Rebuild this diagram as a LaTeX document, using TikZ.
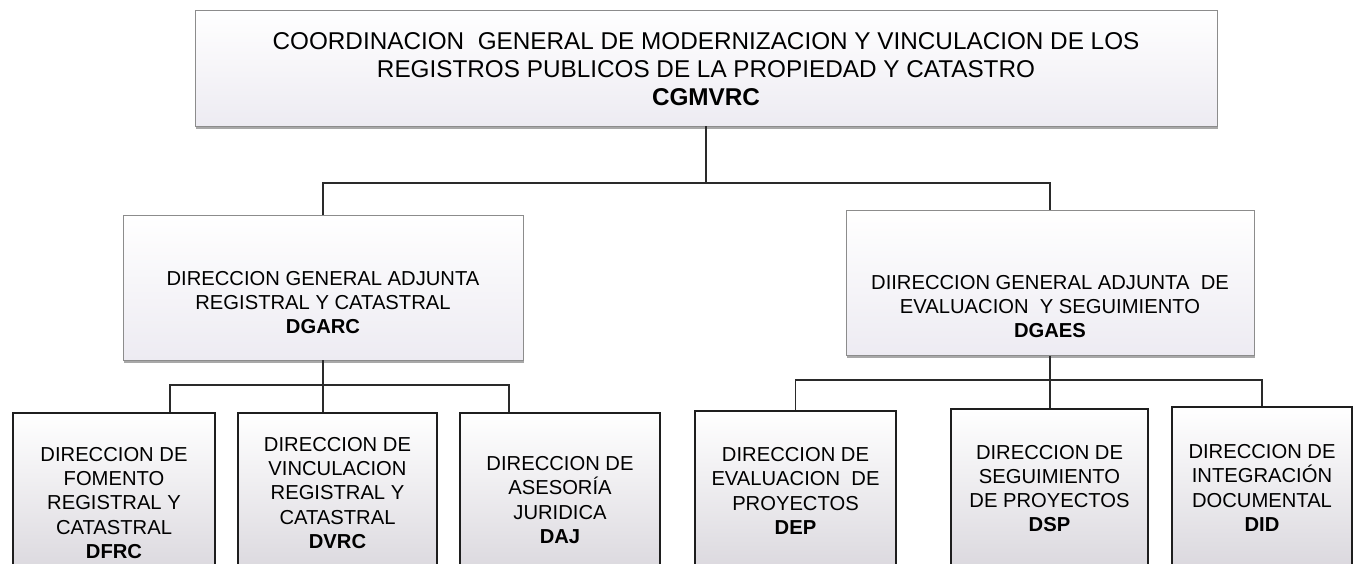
\documentclass[tikz,border=0pt]{standalone}
\usepackage{fontspec}
\setmainfont{Liberation Sans}
\usetikzlibrary{shadows}
\definecolor{linec}{HTML}{2A2A2A}
\definecolor{softborder}{HTML}{8C8C8C}
\definecolor{lav}{HTML}{EDEBF2}
\definecolor{botgray}{HTML}{D4D1D8}
\definecolor{shadowc}{HTML}{A8A8A8}
\definecolor{unitborder}{HTML}{1E1E1E}
\begin{document}
\begin{tikzpicture}[x=1pt,y=-1pt,
  headbox/.style={draw=softborder, line width=0.8pt, top color=white, bottom color=lav, inner sep=0pt,
    drop shadow={shadow xshift=1pt, shadow yshift=-2.5pt, fill=shadowc, opacity=1}},
  unitbox/.style={draw=unitborder, line width=1.8pt, top color=white, bottom color=botgray, inner sep=0pt, minimum height=190pt},
  toptext/.style={align=center, font=\fontsize{24.3}{28}\selectfont, inner sep=0pt},
  midtext/.style={align=center, font=\fontsize{20.2}{24}\selectfont, inner sep=0pt},
  unittext/.style={align=center, font=\fontsize{20.2}{24.3}\selectfont, inner sep=0pt},
  conn/.style={draw=linec, line width=1.2pt}
]
\useasboundingbox (0,0) rectangle (1357,563);
\clip (0,0) rectangle (1357,563);
\fill[white] (0,0) rectangle (1357,563);

% head boxes
\node[headbox, minimum width=1022pt, minimum height=116pt] (cg) at (706,68) {};
\node[headbox, minimum width=400pt, minimum height=145pt] (dgarc) at (323,287.5) {};
\node[headbox, minimum width=408pt, minimum height=145pt] (dgaes) at (1050,283) {};

% unit boxes (top edge at y = center - 95)
\node[unitbox, minimum width=202pt] (dfrc) at (114,508) {};
\node[unitbox, minimum width=199pt] (dvrc) at (337.5,508) {};
\node[unitbox, minimum width=200pt] (daj) at (560,508) {};
\node[unitbox, minimum width=201pt] (dep) at (795.5,506) {};
\node[unitbox, minimum width=197pt] (dsp) at (1049.5,504) {};
\node[unitbox, minimum width=180pt] (did) at (1262,502) {};

% texts
\node[toptext] (cgT) at (706,69) {COORDINACION\ \ GENERAL DE MODERNIZACION Y VINCULACION DE LOS\\REGISTROS PUBLICOS DE LA PROPIEDAD Y CATASTRO\\\textbf{CGMVRC}};
\node[midtext] (dgarcT) at (323,303) {DIRECCION GENERAL ADJUNTA\\REGISTRAL Y CATASTRAL\\\textbf{DGARC}};
\node[midtext] (dgaesT) at (1050,307) {DIIRECCION GENERAL ADJUNTA\ \ DE\\EVALUACION\ \ Y SEGUIMIENTO\\\textbf{DGAES}};

\node[unittext] (dfrcT) at (114,503) {DIRECCION DE\\FOMENTO\\REGISTRAL Y\\CATASTRAL\\\textbf{DFRC}};
\node[unittext] (dvrcT) at (337.5,493) {DIRECCION DE\\VINCULACION\\REGISTRAL Y\\CATASTRAL\\\textbf{DVRC}};
\node[unittext] (dajT) at (560,500) {DIRECCION DE\\ASESORÍA\\JURIDICA\\\textbf{DAJ}};
\node[unittext] (depT) at (795.5,491) {DIRECCION DE\\EVALUACION\ \ DE\\PROYECTOS\\\textbf{DEP}};
\node[unittext] (dspT) at (1049.5,488.5) {DIRECCION DE\\SEGUIMIENTO\\DE PROYECTOS\\\textbf{DSP}};
\node[unittext] (didT) at (1262,488) {DIRECCION DE\\INTEGRACIÓN\\DOCUMENTAL\\\textbf{DID}};

% connectors
\coordinate (b1) at (706,183);
\coordinate (b2) at (323,385);
\coordinate (b3) at (1050,380);
\draw[conn] (cg.south) -- (b1);
\draw[conn] (dgarc.north) |- (b1) -| (dgaes.north);

\draw[conn] (dgarc.south) -- (dgarc.south |- dvrc.north);
\draw[conn] ([xshift=56pt]dfrc.north) |- (b2) -| ([xshift=-51pt]daj.north);

\draw[conn] (dgaes.south) -- (dgaes.south |- dsp.north);
\draw[conn] (dep.north) |- (b3) -| (did.north);
\end{tikzpicture}
\end{document}
